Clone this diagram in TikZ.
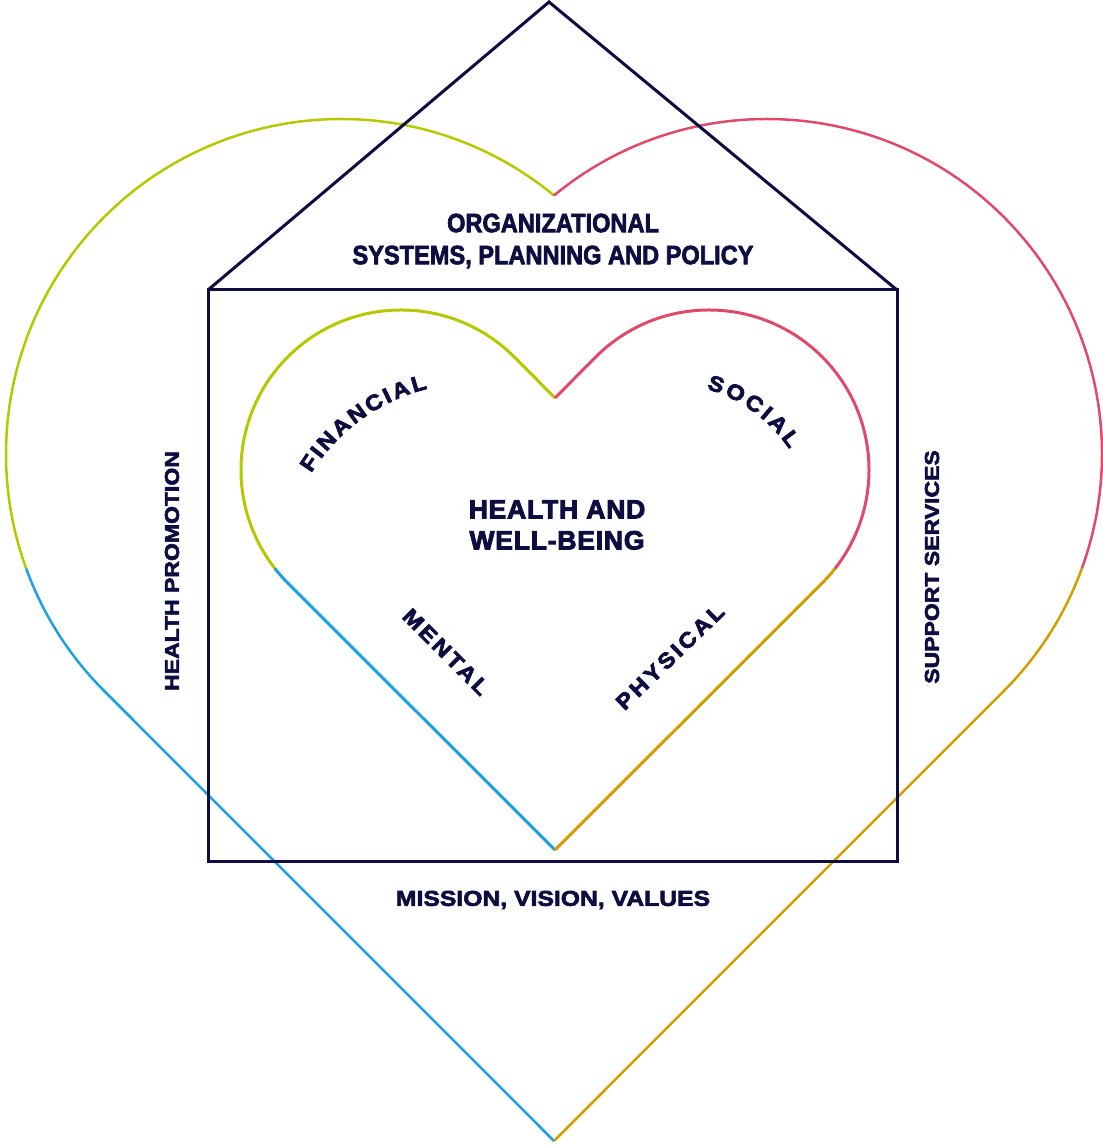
\documentclass[tikz,border=0pt]{standalone}
\usepackage{fontspec}
\setmainfont{Liberation Sans}
\newfontfamily\roofface{Liberation Sans}[FakeStretch=0.89,BoldFeatures={FakeBold=2.5}]
\newfontfamily\wideface{Liberation Sans}[FakeStretch=1.15,BoldFeatures={FakeBold=3}]
\newfontfamily\heartface{Liberation Sans}[LetterSpace=3,BoldFeatures={FakeBold=3.5}]
\newfontfamily\petalface{Liberation Sans}[FakeStretch=1.1,LetterSpace=14,BoldFeatures={FakeBold=3.5}]
\newfontfamily\arcface{Liberation Sans}[FakeStretch=1.1,BoldFeatures={FakeBold=3.5}]
\usepackage{tikz}
\usetikzlibrary{calc}
\usetikzlibrary{decorations.text}
\definecolor{navy}{HTML}{0D0D40}
\definecolor{lime}{HTML}{B5C800}
\definecolor{rose}{HTML}{E04A6A}
\definecolor{sky}{HTML}{1BA1E2}
\definecolor{ochre}{HTML}{D29E00}
\newcommand\arcfont{\color{navy}\arcface\bfseries\fontsize{21.5}{22}\selectfont}

\begin{document}
\begin{tikzpicture}[
  x=1pt,y=1pt,
  house/.style={draw=navy,line width=3pt,line join=miter},
  big/.style={line width=2.5pt},
  small/.style={line width=3pt},
  roof label/.style={text=navy,inner sep=0pt,align=center,
    font=\roofface\bfseries\fontsize{26.5}{32}\selectfont},
  side label/.style={text=navy,inner sep=0pt,
    font=\wideface\bfseries\fontsize{20}{24}\selectfont},
  core label/.style={text=navy,inner sep=0pt,align=center,
    font=\heartface\bfseries\fontsize{26.5}{31}\selectfont},
  petal label/.style={text=navy,inner sep=0pt,
    font=\petalface\bfseries\fontsize{21.5}{24}\selectfont},
  arc label/.style={decorate,decoration={text along path,
    text align={fit to path}}}
  ]
  \useasboundingbox (0,0) rectangle (1102,1147);

  \coordinate (bigL)     at (341,693);
  \coordinate (bigR)     at (767,693);
  \coordinate (bigbot)   at (554,6);
  \coordinate (lobeL)    at (401,677);
  \coordinate (lobeR)    at (709,677);
  \coordinate (innerdip) at (555,749);
  \coordinate (innerbot) at (555,297);

  \draw[big,lime]  ($(bigL)+(50.5:335)$) arc[start angle=50.5,end angle=200,radius=335];
  \draw[big,sky]   ($(bigL)+(200:335)$) arc[start angle=200,end angle=225,radius=335] -- (bigbot);
  \draw[big,rose]  ($(bigR)+(129.5:335)$) arc[start angle=129.5,end angle=-20,radius=335];
  \draw[big,ochre] ($(bigR)+(-20:335)$) arc[start angle=-20,end angle=-45,radius=335] -- (bigbot);

  \draw[small,lime]  (innerdip) -- ($(lobeL)+(45:160)$) arc[start angle=45,end angle=218,radius=160];
  \draw[small,sky]   ($(lobeL)+(218:160)$) arc[start angle=218,end angle=225,radius=160] -- (innerbot);
  \draw[small,rose]  (innerdip) -- ($(lobeR)+(135:160)$) arc[start angle=135,end angle=-38,radius=160];
  \draw[small,ochre] ($(lobeR)+(-38:160)$) arc[start angle=-38,end angle=-45,radius=160] -- (innerbot);

  \coordinate (eaveL) at (208,857);
  \coordinate (eaveR) at (897,857);
  \coordinate (apex)  at (549,1145);
  \draw[house] (208,285) rectangle (eaveR);
  \draw[house] (eaveL) -- (apex) -- (eaveR);

  \node (roof)     at (553,906) [roof label] {ORGANIZATIONAL\\SYSTEMS, PLANNING AND POLICY};
  \node (base)     at (553,247) [side label,font=\wideface\bfseries\fontsize{21.5}{24}\selectfont] {MISSION, VISION, VALUES};
  \node (promo)    at (172,576) [side label,rotate=90] {HEALTH PROMOTION};
  \node (support)  at (932,580) [side label,rotate=90] {SUPPORT SERVICES};
  \node (core)     at (557,622) [core label] {HEALTH AND\\WELL-BEING};
  \node (mental)   at (446,495) [petal label,rotate=-45] {MENTAL};
  \node (physical) at (670,490) [petal label,rotate=44] {PHYSICAL};

  \coordinate (finarc) at (474,572);
  \coordinate (socarc) at (665,614);
  \path[arc label,decoration={text={|\arcfont|FINANCIAL}}]
    ($(finarc)+(148:192)$) arc[start angle=148,end angle=104,radius=192];
  \path[arc label,decoration={text={|\arcfont|SOCIAL}}]
    ($(socarc)+(74:150)$) arc[start angle=74,end angle=34,radius=150];
\end{tikzpicture}
\end{document}
